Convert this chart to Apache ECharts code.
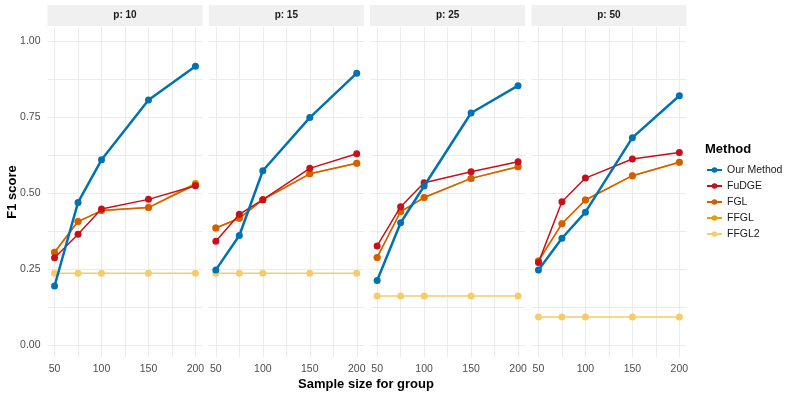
<!DOCTYPE html>
<html>
<head>
<meta charset="utf-8">
<script src="https://cdn.jsdelivr.net/npm/echarts@6/dist/echarts.min.js"></script>
<style>
  html, body { margin: 0; padding: 0; background: #fff; }
  #chart { width: 793px; height: 397px; }
</style>
</head>
<body>
<div id="chart"></div>
<script>
// 数据
const panels = ['p: 10', 'p: 15', 'p: 25', 'p: 50'];
const sampleSizes = [50, 75, 100, 150, 200];
const methods = ['Our Method', 'FuDGE', 'FGL', 'FFGL', 'FFGL2'];
const xTicks = [50, 100, 150, 200];
const yTicks = [0, 0.25, 0.5, 0.75, 1];

// one row per panel
const ourMethod = [
  [0.194, 0.469, 0.609, 0.806, 0.917],
  [0.247, 0.360, 0.573, 0.748, 0.894],
  [0.212, 0.402, 0.523, 0.763, 0.853],
  [0.247, 0.351, 0.437, 0.682, 0.820]
];
const fudge = [
  [0.287, 0.364, 0.447, 0.479, 0.524],
  [0.341, 0.430, 0.478, 0.581, 0.629],
  [0.326, 0.455, 0.534, 0.570, 0.603],
  [0.271, 0.471, 0.549, 0.612, 0.633]
];
const fgl = [
  [0.305, 0.406, 0.442, 0.452, 0.527],
  [0.385, 0.417, 0.478, 0.563, 0.598],
  [0.288, 0.439, 0.485, 0.548, 0.586],
  [0.276, 0.399, 0.477, 0.557, 0.601]
];
const ffgl = [
  [0.305, 0.406, 0.442, 0.452, 0.532],
  [0.385, 0.417, 0.478, 0.563, 0.598],
  [0.288, 0.439, 0.485, 0.548, 0.586],
  [0.276, 0.399, 0.477, 0.557, 0.601]
];
const ffgl2 = [
  [0.236, 0.236, 0.236, 0.236, 0.236],
  [0.236, 0.236, 0.236, 0.236, 0.236],
  [0.161, 0.161, 0.161, 0.161, 0.161],
  [0.092, 0.092, 0.092, 0.092, 0.092]
];

const methodData = [ourMethod, fudge, fgl, ffgl, ffgl2];
const colors = ['#0072B2', '#C8101A', '#D55E00', '#E69F00', '#F6CB6A'];
const lineWidths = [2.5, 1.5, 1.5, 1.5, 1.5];
const zs = [6, 5, 4, 3, 2];

const font = 'Liberation Sans';
const gridColor = '#EBEBEB';

const panelLeft = [47.5, 208.8, 370.1, 531.4];
const panelWidth = 155;
const panelTop = 27;
const panelHeight = 330;

let grids = [], xAxes = [], yAxes = [], series = [], graphics = [];

panels.forEach((p, i) => {
  grids.push({
    left: panelLeft[i], top: panelTop, width: panelWidth, height: panelHeight
  });
  xAxes.push({
    type: 'value', gridIndex: i, min: 42.5, max: 207.5,
    axisLine: { show: false },
    axisTick: { show: false, customValues: [50, 75, 100, 125, 150, 175, 200] },
    axisLabel: {
      customValues: xTicks, color: '#4D4D4D', fontSize: 10.5, fontFamily: font,
      margin: 7, formatter: v => String(v)
    },
    splitLine: { show: true, lineStyle: { color: gridColor, width: 1 } }
  });
  yAxes.push({
    type: 'value', gridIndex: i, min: -0.0395, max: 1.046,
    axisLine: { show: false },
    axisTick: { show: false, customValues: [0, 0.125, 0.25, 0.375, 0.5, 0.625, 0.75, 0.875, 1] },
    axisLabel: {
      show: i === 0, customValues: yTicks, color: '#4D4D4D', fontSize: 10.5,
      fontFamily: font, margin: 7, formatter: v => v.toFixed(2)
    },
    splitLine: { show: true, lineStyle: { color: gridColor, width: 1 } }
  });
  methods.forEach((m, k) => {
    series.push({
      name: m, type: 'line', xAxisIndex: i, yAxisIndex: i,
      data: sampleSizes.map((s, j) => [s, methodData[k][i][j]]),
      symbol: 'circle', symbolSize: 7, showSymbol: true,
      lineStyle: { color: colors[k], width: lineWidths[k] },
      itemStyle: { color: colors[k] },
      z: zs[k], silent: true
    });
  });
  // facet strip
  graphics.push({
    type: 'rect',
    shape: { x: panelLeft[i], y: 5, width: panelWidth, height: 21 },
    style: { fill: '#F0F0F0' }
  });
  graphics.push({
    type: 'text',
    x: panelLeft[i] + panelWidth / 2, y: 15.5,
    style: {
      text: p, fill: '#1A1A1A', font: 'bold 10px "Liberation Sans"',
      align: 'center', verticalAlign: 'middle'
    }
  });
});

graphics.push({
  type: 'text', x: 366, y: 384,
  style: { text: 'Sample size for group', fill: '#000', font: 'bold 13px "Liberation Sans"', align: 'center', verticalAlign: 'middle' }
});
graphics.push({
  type: 'text', x: 12, y: 192, rotation: Math.PI / 2,
  style: { text: 'F1 score', fill: '#000', font: 'bold 13px "Liberation Sans"', align: 'center', verticalAlign: 'middle' }
});
graphics.push({
  type: 'text', x: 705, y: 149,
  style: { text: 'Method', fill: '#000', font: 'bold 13px "Liberation Sans"', align: 'left', verticalAlign: 'middle' }
});

const chart = echarts.init(document.getElementById('chart'), null, { renderer: 'canvas' });
chart.setOption({
  animation: false,
  backgroundColor: '#fff',
  grid: grids,
  xAxis: xAxes,
  yAxis: yAxes,
  series: series,
  legend: {
    data: methods, orient: 'vertical', left: 701, top: 159,
    itemWidth: 15, itemHeight: 7, itemGap: 4,
    selectedMode: false,
    textStyle: { color: '#1A1A1A', fontSize: 10.5, fontFamily: font, lineHeight: 12 }
  },
  graphic: graphics
});
</script>
</body>
</html>
